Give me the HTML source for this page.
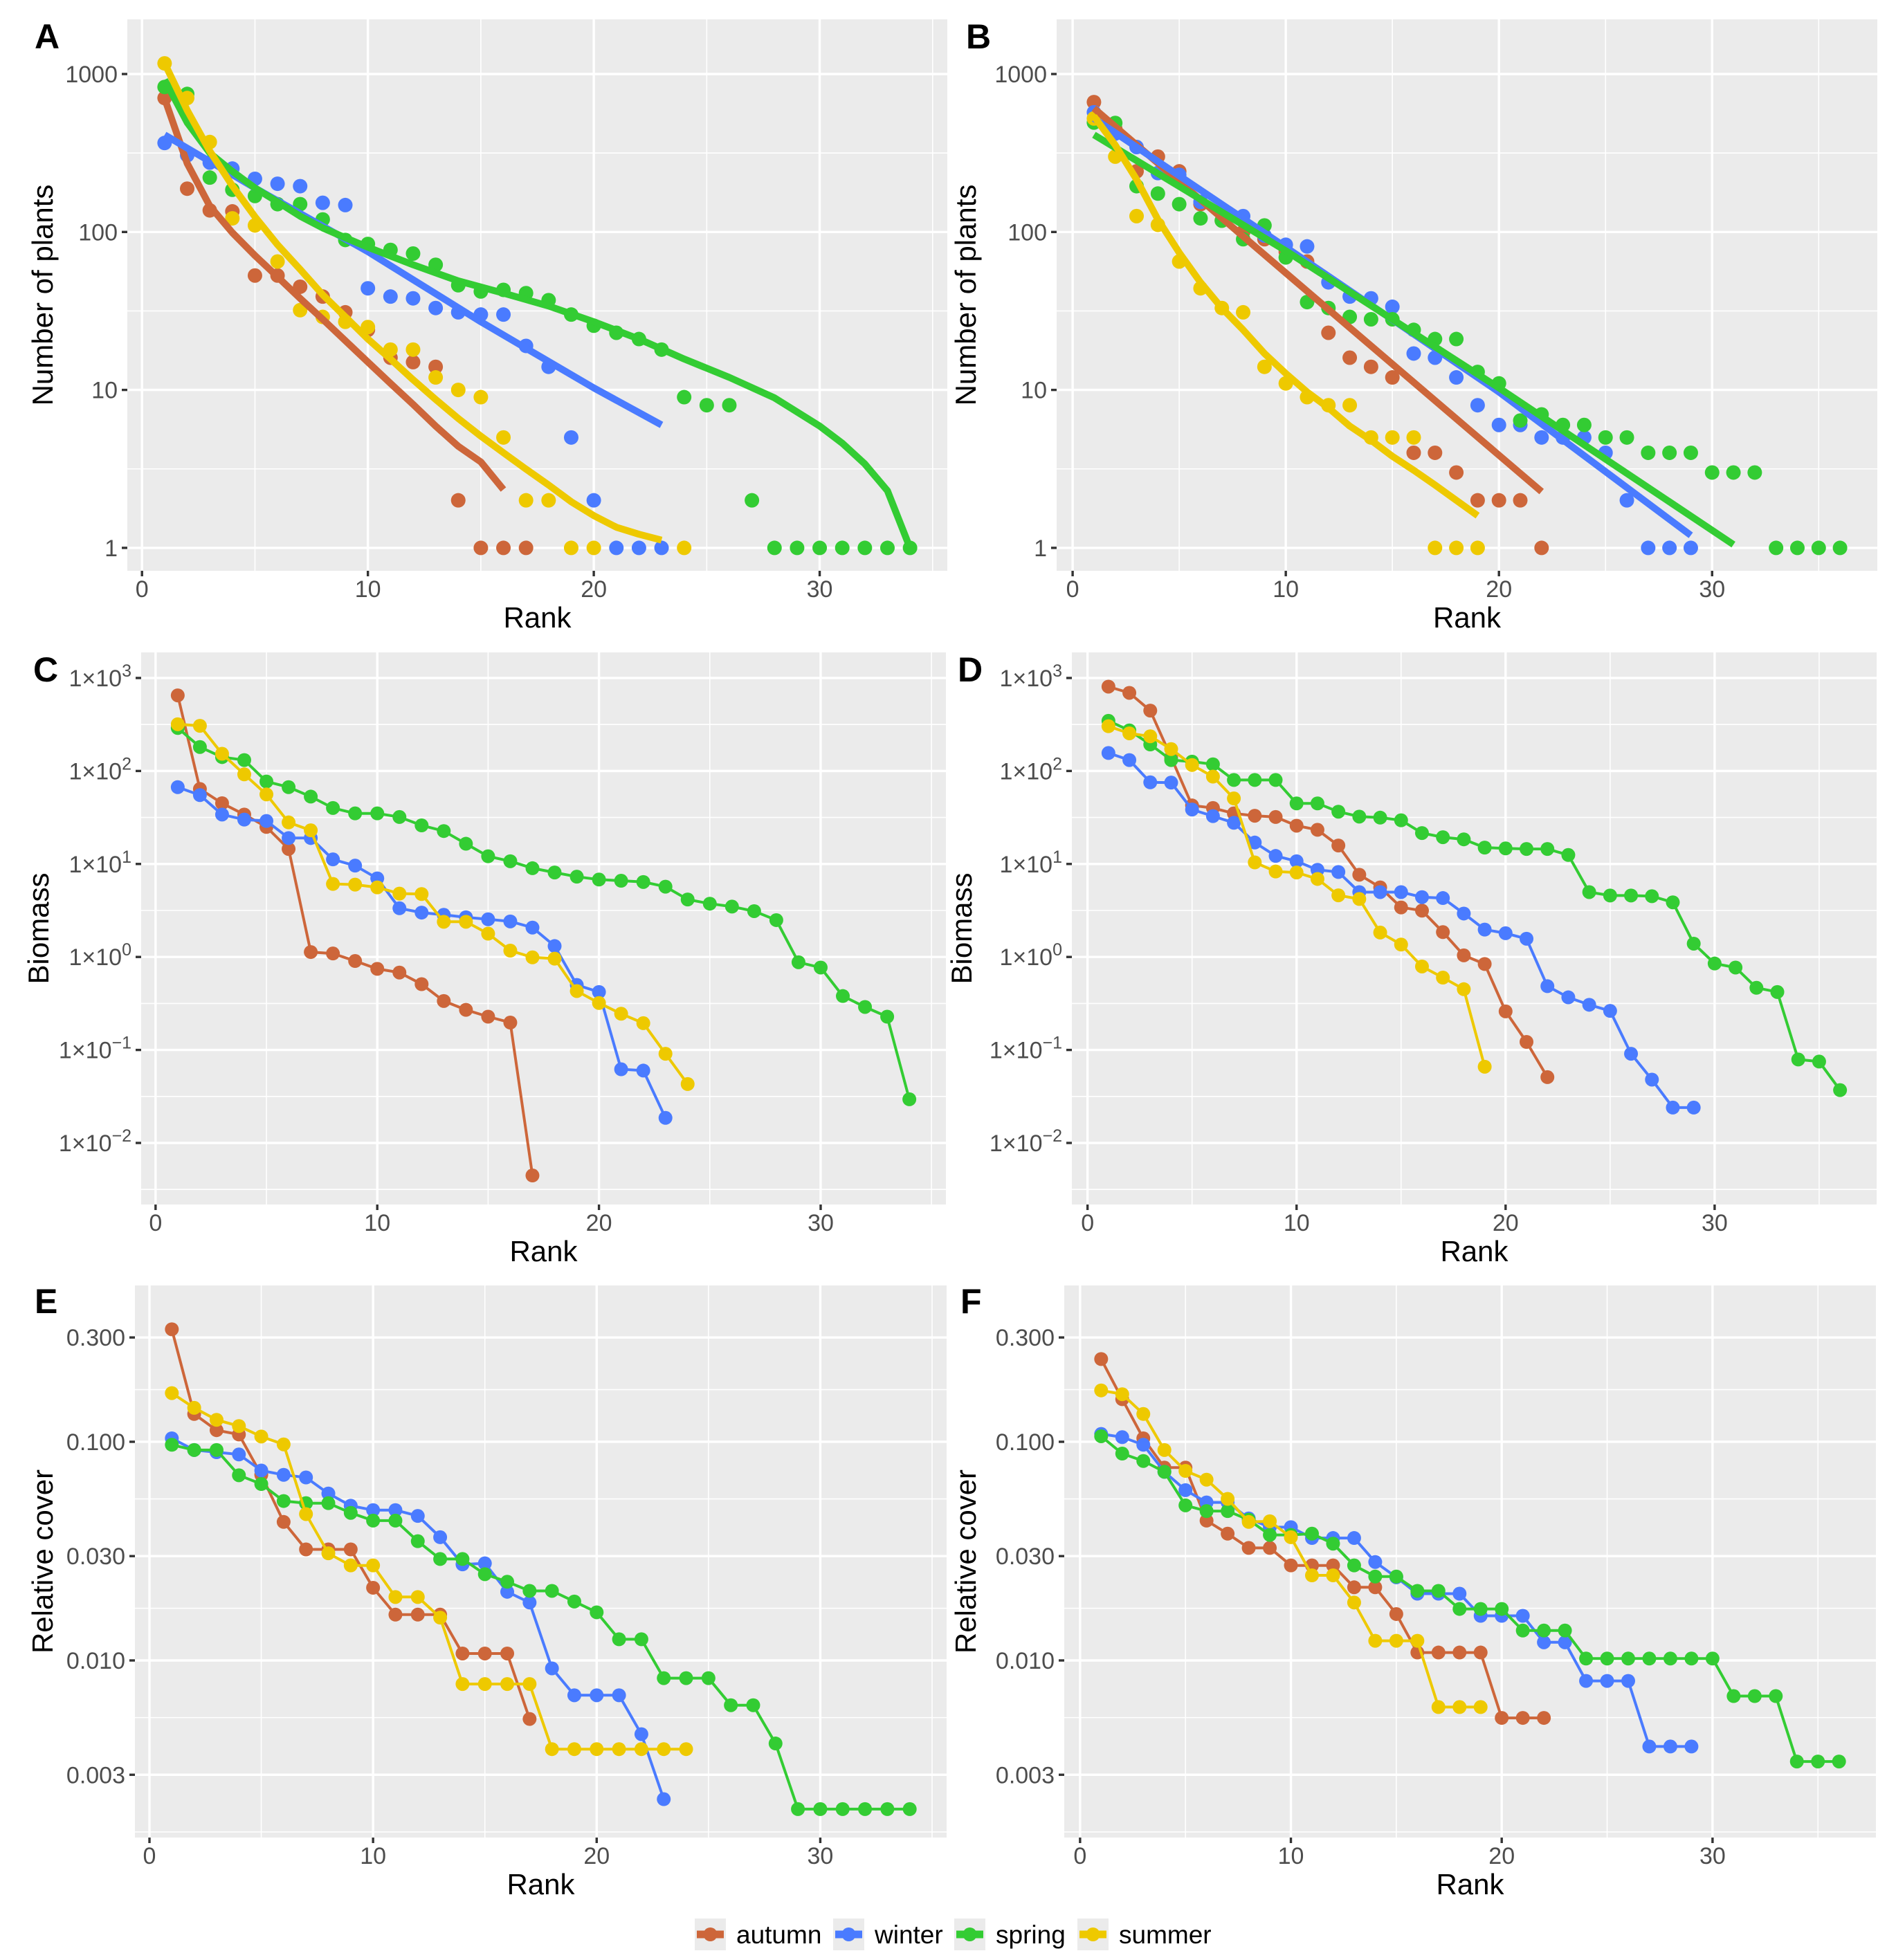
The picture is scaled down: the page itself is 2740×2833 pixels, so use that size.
<!DOCTYPE html>
<html><head><meta charset="utf-8"><style>
html,body{margin:0;padding:0;background:#fff;}
svg{display:block;font-family:"Liberation Sans",Arial,sans-serif;}
</style></head><body>
<svg id="fig" xmlns="http://www.w3.org/2000/svg" width="2740" height="2833" viewBox="0 0 2740 2833"></svg>
<script>
// ===== DATA =====
const seasons = ["autumn","winter","spring","summer"];
const seasonColors = ["#CD663A","#4A7BFF","#33CC33","#EEC900"];

// Panel A: number of plants (points)
const aAutumn = [705,188,137,135,53,53,45,39,31,24,16,15,14,2,1,1,1];
const aWinter = [366,306,275,252,217,202,195,153,148,44,39,38,33,31,30,30,19,14,5,2,1,1,1];
const aSpring = [828,748,221,185,169,150,150,120,89,84,77,73,62,46,42,43,41,37,30,25.5,23,21,18,9,8,8,2,1,1,1,1,1,1,1];
const aSummer = [1168,705,371,122,110,65,32,29,27,25,18,18,12,10,9,5,2,2,1,1];
const aSummerRanks = [1,2,3,4,5,6,7,8,9,10,11,12,13,14,15,16,17,18,19,20];
const aSummerExtraRanks = [24];
const aSummerExtra = [1];
// Panel A fitted curves
const aFitAutumnRanks = [1,2,3,4,5,6,7,8,9,10,11,12,13,14,15,16];
const aFitAutumn = [700,272,146,99,71,52,38,28,20.5,15,11,8.1,5.9,4.4,3.5,2.34];
const aFitWinterRanks = [1,5,10,15,20,23];
const aFitWinter = [412,190,75,27,10.3,6];
const aFitSpringRanks = [1,2,3,4,5,6,7,8,9,10,12,14,16,18,20,22,24,26,28,30,31,32,33,34];
const aFitSpring = [920,493,316,242,190,155,126,106,92,80,62,49,41,34,27,21,15.7,12,8.9,5.9,4.6,3.4,2.3,1];
const aFitSummerRanks = [1,2,3,4,5,6,7,8,9,10,11,12,13,14,15,16,17,18,19,20,21,22,23];
const aFitSummer = [1170,590,325,196,125,83,58,40,29,21,15.7,11.6,8.7,6.6,5.1,4,3.15,2.5,1.96,1.6,1.35,1.22,1.12];

// Panel B: number of plants (points)
const bAutumn = [664,450,242,300,242,150,118,100,90,75,65,23,16,14,12,4,4,3,2,2,2,1];
const bWinter = [572,420,345,236,230,155,135,126,95,83,81,48,39,38,33.6,17,16,12,8,6,6,5,5,5,4,2,1,1,1];
const bSpring = [493,490,195,175,150,122,118,90,110,69,36,33,29,28,28,24,21,21,13,11,6.4,7,6,6,5,5,4,4,4,3,3,3,1,1,1,1];
const bSummer = [523,300,126,111,65,44,33,31,14,11,9,8,8,5,5,5,1,1,1];
// Panel B fitted curves
const bFitAutumnRanks = [1,10,22];
const bFitAutumn = [607,55,2.27];
const bFitWinterRanks = [1,10,20,29];
const bFitWinter = [523,80,9.7,1.2];
const bFitSpringRanks = [1,10,20,31];
const bFitSpring = [412,76,10.3,1.05];
const bFitSummerRanks = [1,2,3,4,5,6,7,8,9,10,11,12,13,14,15,16,17,18,19];
const bFitSummer = [540,355,215,120,74,48,33,24,17,12.7,9.7,7.7,5.9,4.8,3.8,3.1,2.5,2.0,1.6];

// Panel C: biomass
const cAutumn = [650,64,45,34,25,14.5,1.13,1.09,0.905,0.745,0.68,0.51,0.336,0.27,0.228,0.197,0.00447];
const cWinter = [67,55,34,30,29,19,19,11.2,9.6,7,3.34,3.0,2.84,2.67,2.54,2.41,2.07,1.31,0.5,0.42,0.062,0.06,0.0186];
const cSpring = [290,181,141,131,77,67,53,40,35,35,32,26,22.6,16.5,12.1,10.7,9.0,8.1,7.3,6.8,6.6,6.4,5.7,4.15,3.74,3.48,3.11,2.49,0.877,0.77,0.38,0.29,0.228,0.0295];
const cSummer = [318,306,153,92,56,28,23,6.1,6.0,5.6,4.8,4.75,2.39,2.39,1.78,1.17,0.99,0.96,0.43,0.32,0.245,0.194,0.091,0.043];

// Panel D: biomass
const dAutumn = [807,692,446,140,42.6,40,35,33,32,25.8,23.3,15.8,7.66,5.6,3.41,3.15,1.85,1.04,0.84,0.26,0.122,0.051];
const dWinter = [156,131,75.5,75,38.5,32.7,27.7,17,12.2,10.7,8.65,8.2,4.98,4.98,4.98,4.4,4.3,2.93,1.97,1.8,1.57,0.485,0.368,0.306,0.263,0.091,0.048,0.024,0.024];
const dSpring = [346,273,193,131,126,118,80,80,80,44.8,44.8,36.5,32.3,31.5,29.5,21.5,19.4,18.4,15,14.7,14.5,14.5,12.5,4.98,4.58,4.58,4.5,3.87,1.39,0.85,0.77,0.466,0.42,0.079,0.075,0.037];
const dSummer = [303,254,236,172,116,87,50.7,10.4,8.3,8.1,6.9,4.6,4.2,1.83,1.36,0.79,0.6,0.45,0.066];

// Panel E: relative cover
const eAutumn = [0.327,0.134,0.113,0.108,0.0706,0.043,0.0322,0.0322,0.0322,0.0215,0.0162,0.0162,0.0162,0.01076,0.01076,0.01076,0.0054];
const eWinter = [0.1037,0.0917,0.0896,0.0875,0.0739,0.0706,0.0687,0.058,0.051,0.0487,0.0487,0.0458,0.0366,0.0275,0.0278,0.0206,0.0184,0.0092,0.00693,0.00693,0.00693,0.0046,0.00232];
const eSpring = [0.0969,0.0917,0.0917,0.0703,0.0641,0.0536,0.0524,0.0524,0.0473,0.0436,0.0436,0.0351,0.0291,0.0291,0.0248,0.0229,0.0208,0.0208,0.0186,0.0166,0.0125,0.0125,0.0083,0.0083,0.0083,0.00624,0.00624,0.00417,0.00209,0.00209,0.00209,0.00209,0.00209,0.00209];
const eSummer = [0.167,0.143,0.126,0.118,0.1057,0.0973,0.0467,0.0309,0.0272,0.0272,0.0195,0.0195,0.0157,0.0078,0.0078,0.0078,0.0078,0.00393,0.00393,0.00393,0.00393,0.00393,0.00393,0.00393];

// Panel F: relative cover
const fAutumn = [0.239,0.1566,0.1037,0.0762,0.0762,0.0436,0.038,0.0327,0.0327,0.0272,0.0272,0.0272,0.0216,0.0216,0.0163,0.01087,0.01087,0.01087,0.01087,0.00546,0.00546,0.00546];
const fWinter = [0.1086,0.105,0.0969,0.0729,0.0601,0.0528,0.0528,0.0446,0.0407,0.0407,0.0363,0.0363,0.0363,0.0282,0.024,0.0202,0.0202,0.0202,0.016,0.016,0.016,0.0121,0.0121,0.00806,0.00806,0.00806,0.00404,0.00404,0.00404];
const fSpring = [0.106,0.0883,0.0817,0.0729,0.0512,0.0482,0.0482,0.044,0.0375,0.0375,0.038,0.0342,0.0272,0.0242,0.0242,0.0208,0.0208,0.0172,0.0172,0.0172,0.0137,0.0137,0.0137,0.0102,0.0102,0.0102,0.0102,0.0102,0.0102,0.0102,0.00687,0.00687,0.00687,0.00345,0.00345,0.00345];
const fSummer = [0.1718,0.165,0.134,0.0917,0.0736,0.0671,0.0548,0.043,0.0433,0.0366,0.0245,0.0245,0.0184,0.0123,0.0123,0.0123,0.00612,0.00612,0.00612];

const xTicks = [0,10,20,30];
const xMinor = [5,15,25,35];
const yTicksAB = [1,10,100,1000];
const yTickLabelsAB = ["1","10","100","1000"];
const yTicksCD = [-2,-1,0,1,2,3];
const yTicksEF = [0.003,0.01,0.03,0.1,0.3];
const yTickLabelsEF = ["0.003","0.010","0.030","0.100","0.300"];

// ===== DRAWING =====
const NS = "http://www.w3.org/2000/svg";
const svg = document.getElementById("fig");
function mk(tag, attrs, parent){
  const e = document.createElementNS(NS, tag);
  for (const k in attrs) e.setAttribute(k, attrs[k]);
  (parent||svg).appendChild(e);
  return e;
}
function range1(n){ const r=[]; for(let i=1;i<=n;i++) r.push(i); return r; }

function makePanel(p){
  const g = mk("g", {});
  
  
  const xs = v => p.L + (v - p.xmin) / (p.xmax - p.xmin) * (p.R - p.L);
  const ys = v => p.T + (p.ytop - Math.log10(v)) / (p.ytop - p.ybot) * (p.B - p.T);
  const ysLog = lv => p.T + (p.ytop - lv) / (p.ytop - p.ybot) * (p.B - p.T);
  const bg = mk("rect", {x:p.L, y:p.T, width:p.R-p.L, height:p.B-p.T, fill:"#EBEBEB"}, g);
  
  
  // minor grid
  const majorLogs = p.yMajorLogs;
  const minorLogs = [];
  for (let i=0;i<majorLogs.length-1;i++) minorLogs.push((majorLogs[i]+majorLogs[i+1])/2);
  const step0 = majorLogs[1]-majorLogs[0];
  minorLogs.push(majorLogs[0]-(majorLogs[1]-majorLogs[0])/2);
  minorLogs.push(majorLogs[majorLogs.length-1]+(majorLogs[majorLogs.length-1]-majorLogs[majorLogs.length-2])/2);
  minorLogs.forEach(lv=>{
    if (lv < p.ybot || lv > p.ytop) return;
    const y = ysLog(lv);
    mk("line", {x1:p.L, x2:p.R, y1:y, y2:y, stroke:"#fff", "stroke-width":1.6}, g);
  });
  xMinor.forEach(v=>{
    const x = xs(v); if (x > p.R) return;
    mk("line", {x1:x, x2:x, y1:p.T, y2:p.B, stroke:"#fff", "stroke-width":1.6}, g);
  });
  // major grid + ticks
  majorLogs.forEach((lv,i)=>{
    const y = ysLog(lv);
    mk("line", {x1:p.L, x2:p.R, y1:y, y2:y, stroke:"#fff", "stroke-width":3.4}, g);
    mk("line", {x1:p.L-8, x2:p.L, y1:y, y2:y, stroke:"#333", "stroke-width":3.4}, g);
    const t = mk("text", {x:p.L-14, y:y+12, "text-anchor":"end", "font-size":34, fill:"#4D4D4D"}, g);
    
    
    if (p.sci) {
      t.textContent = "1×10";
      const s = mk("tspan", {dy:-14, "font-size":25}, t);
      s.textContent = p.yLabels[i];
    } else {
      t.textContent = p.yLabels[i];
    }
  });
  xTicks.forEach(v=>{
    const x = xs(v);
    mk("line", {x1:x, x2:x, y1:p.T, y2:p.B, stroke:"#fff", "stroke-width":3.4}, g);
    mk("line", {x1:x, x2:x, y1:p.B, y2:p.B+8, stroke:"#333", "stroke-width":3.4}, g);
    const t = mk("text", {x:x, y:p.B+38, "text-anchor":"middle", "font-size":34, fill:"#4D4D4D"}, g);
    
    
    t.textContent = String(v);
  });
  // titles
  const xt = mk("text", {x:(p.L+p.R)/2, y:p.B+82, "text-anchor":"middle", "font-size":42, fill:"#000"}, g);
  
  
  xt.textContent = "Rank";
  const yc = (p.T+p.B)/2;
  const yt = mk("text", {x:p.ytX, y:yc, "text-anchor":"middle", "font-size":42, fill:"#000", transform:`rotate(-90 ${p.ytX} ${yc})`}, g);
  
  
  yt.textContent = p.ytitle;
  const lt = mk("text", {x:p.letterX, y:p.letterY, "font-size":50, "font-weight":"bold", fill:"#000"}, g);
  
  
  lt.textContent = p.letter;
  // clip
  const cid = "clip"+p.letter;
  const cp = mk("clipPath", {id:cid}, g);
  mk("rect", {x:p.L, y:p.T, width:p.R-p.L, height:p.B-p.T}, cp);
  const dg = mk("g", {"clip-path":`url(#${cid})`}, g);
  if (p.mode === "fit") {
    p.series.forEach((s,si)=>{
      s.pts.forEach(pt=>{
        const c = mk("circle", {cx:xs(pt[0]), cy:ys(pt[1]), r:10.5, fill:seasonColors[si]}, dg);
        
        
      });
    });
    p.series.forEach((s,si)=>{
      const d = s.fitR.map((r,i)=>(i?"L":"M")+xs(r).toFixed(1)+","+ys(s.fitV[i]).toFixed(1)).join(" ");
      const pl = mk("path", {d:d, fill:"none", stroke:seasonColors[si], "stroke-width":10, "stroke-linejoin":"round"}, dg);
      
      
    });
  } else {
    p.series.forEach((s,si)=>{
      const sg = mk("g", {}, dg);
      
      
      const d = s.vals.map((v,i)=>(i?"L":"M")+xs(i+1).toFixed(1)+","+ys(v).toFixed(1)).join(" ");
      mk("path", {d:d, fill:"none", stroke:seasonColors[si], "stroke-width":4}, sg);
      s.vals.forEach((v,i)=>{
        const c = mk("circle", {cx:xs(i+1), cy:ys(v), r:10, fill:seasonColors[si]}, sg);
        
        
      });
    });
  }
}
function zip(r,v){ return r.map((x,i)=>[x,v[i]]); }
const logAB = yTicksAB.map(v=>Math.log10(v));
const logEF = yTicksEF.map(v=>Math.log10(v));

makePanel({letter:"A", L:184, R:1369, T:28, B:825, xmin:-0.65, xmax:35.65, ytop:3.346, ybot:-0.145,
  yMajorLogs:logAB, yLabels:yTickLabelsAB, sci:false, ytitle:"Number of plants", ytX:76, letterX:50, letterY:70, mode:"fit",
  series:[
    {pts:zip(range1(aAutumn.length),aAutumn), fitR:aFitAutumnRanks, fitV:aFitAutumn},
    {pts:zip(range1(aWinter.length),aWinter), fitR:aFitWinterRanks, fitV:aFitWinter},
    {pts:zip(range1(aSpring.length),aSpring), fitR:aFitSpringRanks, fitV:aFitSpring},
    {pts:zip(aSummerRanks,aSummer).concat(zip(aSummerExtraRanks,aSummerExtra)), fitR:aFitSummerRanks, fitV:aFitSummer}
  ]});
makePanel({letter:"B", L:1527, R:2713, T:28, B:825, xmin:-0.75, xmax:37.75, ytop:3.346, ybot:-0.145,
  yMajorLogs:logAB, yLabels:yTickLabelsAB, sci:false, ytitle:"Number of plants", ytX:1410, letterX:1396, letterY:70, mode:"fit",
  series:[
    {pts:zip(range1(bAutumn.length),bAutumn), fitR:bFitAutumnRanks, fitV:bFitAutumn},
    {pts:zip(range1(bWinter.length),bWinter), fitR:bFitWinterRanks, fitV:bFitWinter},
    {pts:zip(range1(bSpring.length),bSpring), fitR:bFitSpringRanks, fitV:bFitSpring},
    {pts:zip(range1(bSummer.length),bSummer), fitR:bFitSummerRanks, fitV:bFitSummer}
  ]});
makePanel({letter:"C", L:204, R:1367, T:943, B:1741, xmin:-0.65, xmax:35.65, ytop:3.275, ybot:-2.662,
  yMajorLogs:yTicksCD, yLabels:yTicksCD.map(v=>String(v).replace("-","−")), sci:true, ytitle:"Biomass", ytX:70, letterX:48, letterY:985, mode:"line",
  series:[{vals:cAutumn},{vals:cWinter},{vals:cSpring},{vals:cSummer}]});
makePanel({letter:"D", L:1549, R:2712, T:943, B:1741, xmin:-0.75, xmax:37.75, ytop:3.275, ybot:-2.662,
  yMajorLogs:yTicksCD, yLabels:yTicksCD.map(v=>String(v).replace("-","−")), sci:true, ytitle:"Biomass", ytX:1404, letterX:1384, letterY:985, mode:"line",
  series:[{vals:dAutumn},{vals:dWinter},{vals:dSpring},{vals:dSummer}]});
makePanel({letter:"E", L:195, R:1368, T:1858, B:2656, xmin:-0.65, xmax:35.65, ytop:-0.285, ybot:-2.81,
  yMajorLogs:logEF, yLabels:yTickLabelsEF, sci:false, ytitle:"Relative cover", ytX:76, letterX:50, letterY:1898, mode:"line",
  series:[{vals:eAutumn},{vals:eWinter},{vals:eSpring},{vals:eSummer}]});
makePanel({letter:"F", L:1538, R:2711, T:1858, B:2656, xmin:-0.75, xmax:37.75, ytop:-0.285, ybot:-2.81,
  yMajorLogs:logEF, yLabels:yTickLabelsEF, sci:false, ytitle:"Relative cover", ytX:1410, letterX:1388, letterY:1898, mode:"line",
  series:[{vals:fAutumn},{vals:fWinter},{vals:fSpring},{vals:fSummer}]});

// legend
const legendKeyX = [1004,1204,1379,1557];
const lg = mk("g", {});


seasons.forEach((s,i)=>{
  const eg = mk("g", {}, lg);
  
  
  const kx = legendKeyX[i];
  mk("rect", {x:kx, y:2773, width:45, height:46, fill:"#EBEBEB"}, eg);
  mk("line", {x1:kx+3, x2:kx+42, y1:2796, y2:2796, stroke:seasonColors[i], "stroke-width":11}, eg);
  mk("circle", {cx:kx+22.5, cy:2796, r:10, fill:seasonColors[i]}, eg);
  const t = mk("text", {x:kx+60, y:2809, "font-size":37, fill:"#000"}, eg);
  t.textContent = s;
});
</script>
</body></html>
